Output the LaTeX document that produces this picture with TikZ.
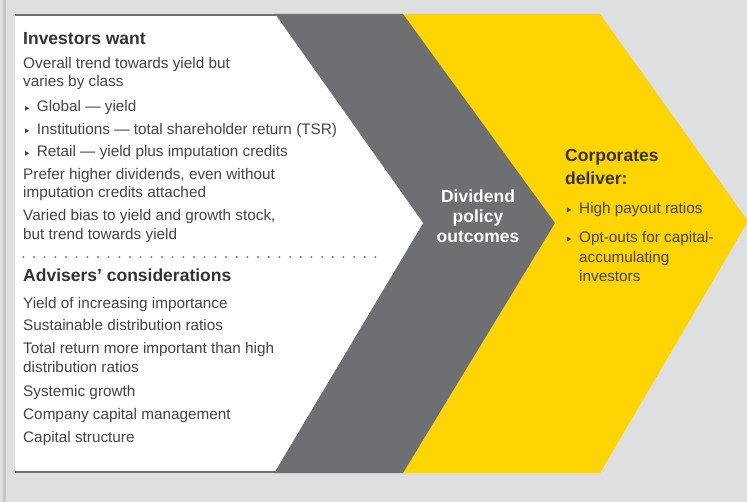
\documentclass[tikz,border=0pt]{standalone}
\usepackage{fontspec}
\setmainfont{Liberation Sans}
\definecolor{bg}{HTML}{DEDFE1}
\definecolor{rule}{HTML}{C6C7C9}
\definecolor{slate}{HTML}{6E6F72}
\definecolor{sun}{HTML}{FFD400}
\definecolor{txt}{HTML}{444447}
\definecolor{headtxt}{HTML}{333335}
\begin{document}
\begin{tikzpicture}[x=1pt,y=-1pt,
  body/.style={anchor=base west, inner sep=0pt, text=txt, font=\fontsize{15.3}{18.7}\selectfont},
  head/.style={anchor=base west, inner sep=0pt, text=headtxt, font=\bfseries\fontsize{17.5}{21}\selectfont},
  mid/.style={anchor=base, inner sep=0pt, text=white, font=\bfseries\fontsize{17.5}{21}\selectfont},
  bul/.pic={\fill[txt] (0,-2.4) -- (4.2,0) -- (0,2.4) -- cycle;},
  dots/.style={slate, line width=2.1pt, line cap=round, dash pattern=on 0pt off 10.67pt}
]
% canvas and left rule
\useasboundingbox (0,0) rectangle (747,502);
\fill[bg] (0,0) rectangle (747,502);
\fill[rule] (3.3,0) rectangle (5.8,502);

% three chevron bands
\fill[sun] (403,14) -- (600,14) -- (748,221) -- (600,473) -- (403,473) -- (555,223) -- cycle;
\fill[slate] (274,14) -- (403,14) -- (555,223) -- (403,473) -- (274,473) -- (423,223) -- cycle;
\fill[white] (15,14) -- (275,14) -- (423,223) -- (274,473) -- (15,473) -- cycle;
\fill[slate] (15,14) rectangle (276,16.2);
\fill[slate] (15,470.8) rectangle (275,473);

% investors
\node[head] (h1) at (23,44.5) {Investors want};
\node[body] (p1a) at (23,68.3) {Overall trend towards yield but};
\node[body] (p1b) at (23,87) {varies by class};
\node[body] (b1) at (36.7,111.7) {Global — yield};
\node[body] (b2) at (36.7,134.2) {Institutions — total shareholder return (TSR)};
\node[body] (b3) at (36.7,156.7) {Retail — yield plus imputation credits};
\node[body] (p2a) at (23,179.3) {Prefer higher dividends, even without};
\node[body] (p2b) at (23,198) {imputation credits attached};
\node[body] (p3a) at (23,221) {Varied bias to yield and growth stock,};
\node[body] (p3b) at (23,239.7) {but trend towards yield};
\foreach \n in {b1,b2,b3}
  \pic at ([xshift=-11.7pt,yshift=3.4pt]\n.base west) {bul};

\draw[dots] (23.3,257) -- (376.5,257);

% advisers
\node[head] (h2) at (23,282) {Advisers’ considerations};
\node[body] (a1) at (23,308.3) {Yield of increasing importance};
\node[body] (a2) at (23,331) {Sustainable distribution ratios};
\node[body] (a3a) at (23,354) {Total return more important than high};
\node[body] (a3b) at (23,372.7) {distribution ratios};
\node[body] (a4) at (23,396) {Systemic growth};
\node[body] (a5) at (23,419.3) {Company capital management};
\node[body] (a6) at (23,442.7) {Capital structure};

% outcomes
\node[mid] (m1) at (478,202.7) {Dividend};
\node[mid] (m2) at (478,222.7) {policy};
\node[mid] (m3) at (478,243) {outcomes};

% corporates
\node[head] (c1) at (565,161.7) {Corporates};
\node[head] (c2) at (565,184.3) {deliver:};
\node[body] (r1) at (579,213.3) {High payout ratios};
\node[body] (r2a) at (579,242.5) {Opt-outs for capital-};
\node[body] (r2b) at (579,262.5) {accumulating};
\node[body] (r2c) at (579,281.5) {investors};
\foreach \n in {r1,r2a}
  \pic at ([xshift=-12pt,yshift=3.4pt]\n.base west) {bul};
\end{tikzpicture}
\end{document}
